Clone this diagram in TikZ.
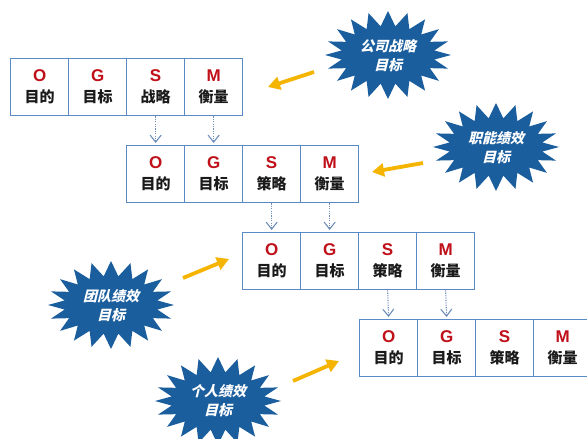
\documentclass[tikz,border=0pt]{standalone}
\usepackage{fontspec}
\setmainfont{Liberation Sans}
\newfontfamily\cjk{Noto Sans CJK SC}
\newfontfamily\cjkslant[FakeSlant=0.25]{Noto Sans CJK SC}
\usetikzlibrary{arrows.meta}
\definecolor{boxblue}{HTML}{5A8AC6}
\definecolor{dotblue}{HTML}{6F8EBA}
\definecolor{letred}{HTML}{C0101A}
\definecolor{starblue}{HTML}{1B5E9E}
\definecolor{arrowyellow}{HTML}{F4B400}
\definecolor{txt}{HTML}{1A1A1A}
\tikzset{
  cell/.style={draw=boxblue, line width=1.3pt, minimum width=58pt, minimum height=57pt,
    inner sep=0pt, anchor=north west, align=center},
  dotarrow/.style={draw=dotblue, line width=1.1pt, dash pattern=on 1.2pt off 1.2pt, shorten >=2pt,
    -{Straight Barb[length=7pt,width=11pt,line width=1.1pt,sep=0pt]}},
  yarrow/.style={draw=arrowyellow, line width=3.8pt,
    -{Triangle[length=12pt,width=13pt]}},
  startext/.style={text=white, align=center, font=\cjkslant\bfseries\fontsize{14}{19}\selectfont}
}
\newcommand\mycell[5]{%
  \node[cell] (#1) at (#2,#3) {{\fontsize{17}{17}\selectfont\bfseries\color{letred}#4}\\[7pt]{\cjk\bfseries\fontsize{15}{15}\selectfont\color{txt}#5}};}
\newcommand\myrow[4]{% prefix, x, y, strategy word
  \mycell{#1o}{#2}{#3}{O}{目的}
  \mycell{#1g}{#2+58}{#3}{G}{目标}
  \mycell{#1s}{#2+116}{#3}{S}{#4}
  \mycell{#1m}{#2+174}{#3}{M}{衡量}}
\newcommand\burst[2]{% center x, y
  \fill[starblue] plot[samples at={0,...,39}, variable=\t]
    ({#1 + (63 - 16*mod(\t,2))*cos(\t*9)}, {#2 + (44 - 15*mod(\t,2))*sin(\t*9)}) -- cycle;}
\begin{document}
\begin{tikzpicture}[x=1pt, y=-1pt]
\useasboundingbox (0,0) rectangle (587,439);
\clip (0,0) rectangle (587,439);
\fill[white] (0,0) rectangle (587,439);
% rows
\myrow{a}{10}{58}{战略}
\myrow{b}{126}{145}{策略}
\myrow{c}{242}{232}{策略}
\myrow{d}{359}{319}{策略}
% dotted connectors
\draw[dotarrow] (as.south) -- (bo.north);
\draw[dotarrow] (am.south) -- (bg.north);
\draw[dotarrow] (bs.south) -- (co.north);
\draw[dotarrow] (bm.south) -- (cg.north);
\draw[dotarrow] (cs.south) -- (do.north);
\draw[dotarrow] (cm.south) -- (dg.north);
% starbursts
\burst{388}{55}
\node[startext] (s1) at (388,56) {公司战略\\目标};
\burst{496}{147}
\node[startext] (s2) at (496,148) {职能绩效\\目标};
\burst{111}{305}
\node[startext] (s3) at (111,306) {团队绩效\\目标};
\burst{218}{401}
\node[startext] (s4) at (218,401) {个人绩效\\目标};
% yellow arrows
\coordinate (y1a) at (314,72); \coordinate (y1b) at (268,87);
\coordinate (y2a) at (423,163); \coordinate (y2b) at (372,172);
\coordinate (y3a) at (183,278); \coordinate (y3b) at (229,259);
\coordinate (y4a) at (293,381); \coordinate (y4b) at (339,361);
\draw[yarrow] (y1a) -- (y1b);
\draw[yarrow] (y2a) -- (y2b);
\draw[yarrow] (y3a) -- (y3b);
\draw[yarrow] (y4a) -- (y4b);
\end{tikzpicture}
\end{document}
